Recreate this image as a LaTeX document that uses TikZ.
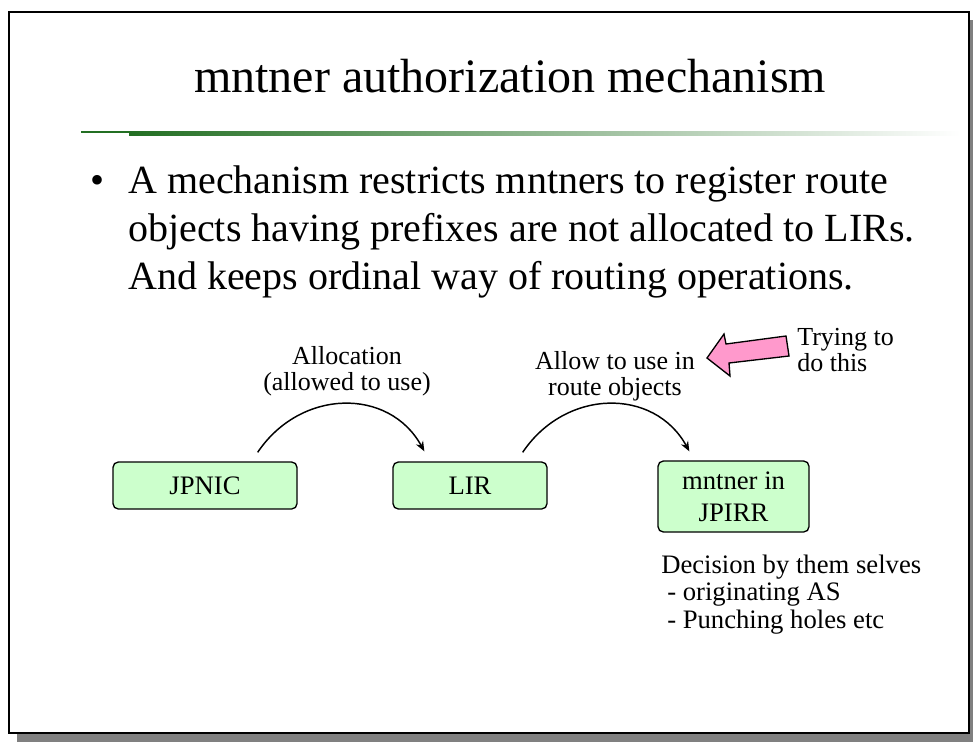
\documentclass[tikz,border=0pt]{standalone}
\usepackage{fontspec}
\setmainfont{Liberation Serif}
\usetikzlibrary{arrows.meta}
\definecolor{shadowgray}{HTML}{808080}
\definecolor{ruledark}{HTML}{236F23}
\definecolor{rulemid}{HTML}{45A045}
\definecolor{boxgreen}{HTML}{CCFFCC}
\definecolor{hintpink}{HTML}{FF99CC}
\tikzset{
  frame/.style={draw=black, line width=1.5pt, fill=white},
  shadow/.style={fill=shadowgray},
  titletext/.style={font=\fontsize{36}{44}\selectfont, inner sep=0pt},
  bodytext/.style={font=\fontsize{30}{36}\selectfont, align=left, inner sep=0pt},
  lab/.style={font=\fontsize{19.5}{19.5}\selectfont, align=center, inner sep=0pt},
  labl/.style={font=\fontsize{20}{20.6}\selectfont, align=left, inner sep=0pt},
  org/.style={draw=black, line width=1pt, fill=boxgreen, rounded corners=4pt, font=\fontsize{20}{23.7}\selectfont, align=center, inner sep=0pt, minimum height=35.25pt},
  flow/.style={draw=black, line width=1.1pt, -{Stealth[length=7.5pt,width=6pt]}},
  hint/.style={draw=black, line width=1pt, fill=hintpink, line join=miter},
}
\begin{document}
\begin{tikzpicture}[x=0.75pt,y=-0.75pt]
  \useasboundingbox (0,0) rectangle (973,742);
  % slide frame
  \fill[shadow] (17,20) rectangle (973,742);
  \draw[frame] (9,12) rectangle (969,733);
  % title and rule
  \node[titletext, anchor=base] (title) at (510,92) {mntner authorization mechanism};
  \draw[ruledark, line width=1.1pt] (81,132) -- (129,132);
  \shade[left color=ruledark, middle color=rulemid, right color=white] (129,131) rectangle (960,135);
  % bullet
  \node[bodytext, anchor=base] (bullet) at (98,193) {•};
  \node[bodytext, anchor=base west] (point) at (128,289) {A mechanism restricts mntners to register route\\
    objects having prefixes are not allocated to LIRs.\\
    And keeps ordinal way of routing operations.};
  % boxes
  \node[org, minimum width=138pt] (jpnic) at (205,485.5) {JPNIC};
  \node[org, minimum width=115.5pt] (lir) at (470,485.5) {LIR};
  \node[org, minimum width=113.25pt, minimum height=53.25pt] (mntner) at (733.5,496.5) {mntner in\\JPIRR};
  % arcs
  \draw[flow] ([shift={(-40,-9)}]jpnic.north east) .. controls +(43,-64) and +(-35,-64) .. ([shift={(32,-10)}]lir.north west);
  \draw[flow] ([shift={(-25,-9)}]lir.north east) .. controls +(43,-64) and +(-35,-64) .. ([shift={(32,-9)}]mntner.north west);
  \node[lab, anchor=base] (alloc) at (347,390) {Allocation\\(allowed to use)};
  \node[lab, anchor=base] (allow) at (615,395) {Allow to use in\\route objects};
  % pink hint arrow
  \draw[hint] (707,358) -- (724,334) -- (726,344) -- (786,336) -- (789,356) -- (729,363) -- (730,376) -- cycle;
  \node[lab, align=left, anchor=base west] (trying) at (797,371) {Trying to\\do this};
  \node[labl, anchor=base west] (decision) at (661,628) {Decision by them selves\\
    \hspace*{4.5pt}- originating AS\\
    \hspace*{4.5pt}- Punching holes etc};
\end{tikzpicture}
\end{document}
